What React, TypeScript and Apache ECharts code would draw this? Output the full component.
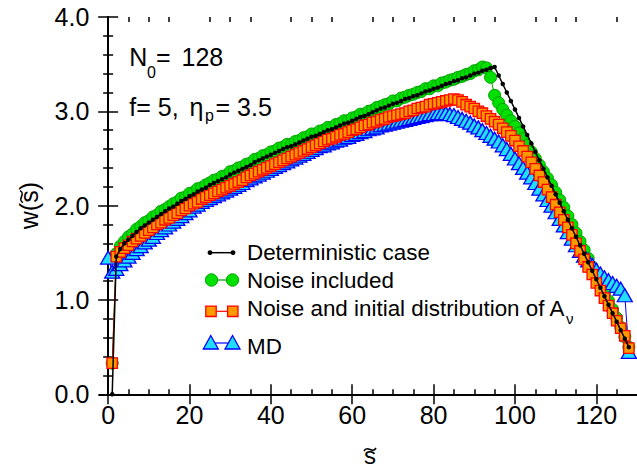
import React, { useEffect, useRef } from "react";
import * as echarts from "echarts";

// ---- data ----
const xMajor = [0, 20, 40, 60, 80, 100, 120];
const xMinor = [5, 10, 15, 25, 30, 35, 45, 50, 55, 65, 70, 75, 85, 90, 95, 105, 110, 115, 125];

// Deterministic case, s = 1 .. 128
const detStart = 1;
const detW = [
  0, 1.46, 1.54, 1.6, 1.64, 1.68, 1.72, 1.76, 1.79, 1.82, 1.85, 1.88, 1.91, 1.94, 1.97, 1.99, 2.02, 2.05, 2.07, 2.1,
  2.12, 2.15, 2.17, 2.19, 2.22, 2.24, 2.26, 2.28, 2.3, 2.33, 2.35, 2.37, 2.39, 2.41, 2.43, 2.46, 2.48, 2.5, 2.52, 2.54,
  2.56, 2.58, 2.6, 2.62, 2.63, 2.65, 2.67, 2.69, 2.71, 2.73, 2.74, 2.76, 2.78, 2.8, 2.81, 2.83, 2.85, 2.87, 2.88, 2.9,
  2.92, 2.94, 2.95, 2.97, 2.99, 3.01, 3.03, 3.04, 3.06, 3.08, 3.09, 3.11, 3.13, 3.14, 3.16, 3.17, 3.19, 3.21, 3.22, 3.24,
  3.25, 3.27, 3.29, 3.3, 3.32, 3.33, 3.35, 3.36, 3.38, 3.4, 3.41, 3.43, 3.44, 3.46, 3.47, 3.38, 3.29, 3.2, 3.11, 3.02,
  2.93, 2.84, 2.75, 2.66, 2.57, 2.48, 2.39, 2.3, 2.21, 2.12, 2.03, 1.94, 1.85, 1.76, 1.67, 1.58, 1.49, 1.4, 1.31, 1.22,
  1.13, 1.04, 0.95, 0.86, 0.77, 0.68, 0.59, 0.5,
];

// Noise included, s = 1 .. 128
const noiseStart = 1;
const noiseW = [
  0.33, 1.49, 1.57, 1.62, 1.67, 1.7, 1.75, 1.78, 1.82, 1.84, 1.88, 1.9, 1.94, 1.96, 1.99, 2.02, 2.04, 2.08, 2.09, 2.13,
  2.14, 2.18, 2.19, 2.22, 2.24, 2.27, 2.28, 2.31, 2.32, 2.36, 2.37, 2.4, 2.41, 2.44, 2.45, 2.49, 2.5, 2.53, 2.54, 2.57,
  2.58, 2.61, 2.62, 2.65, 2.65, 2.68, 2.69, 2.72, 2.73, 2.76, 2.76, 2.79, 2.8, 2.83, 2.83, 2.86, 2.87, 2.9, 2.9, 2.93,
  2.94, 2.97, 2.97, 3.0, 3.01, 3.04, 3.05, 3.07, 3.08, 3.11, 3.11, 3.14, 3.15, 3.17, 3.18, 3.2, 3.21, 3.24, 3.24, 3.27,
  3.27, 3.3, 3.31, 3.33, 3.34, 3.36, 3.37, 3.39, 3.4, 3.43, 3.44, 3.47, 3.46, 3.36, 3.17, 3.09, 3.02, 2.96, 2.9, 2.84,
  2.77, 2.71, 2.64, 2.57, 2.5, 2.43, 2.36, 2.29, 2.22, 2.14, 2.06, 1.98, 1.89, 1.8, 1.71, 1.62, 1.53, 1.44, 1.35, 1.26,
  1.17, 1.08, 0.99, 0.9, 0.81, 0.71, 0.61, 0.5,
];

// Noise and initial distribution of A_nu, s = 1 .. 128
const initStart = 1;
const initW = [
  0.33, 1.46, 1.51, 1.55, 1.58, 1.62, 1.65, 1.68, 1.71, 1.74, 1.77, 1.8, 1.82, 1.85, 1.87, 1.9, 1.92, 1.95, 1.97, 2.0,
  2.02, 2.04, 2.07, 2.09, 2.11, 2.13, 2.15, 2.17, 2.19, 2.21, 2.23, 2.25, 2.27, 2.3, 2.32, 2.34, 2.36, 2.38, 2.4, 2.42,
  2.44, 2.46, 2.48, 2.5, 2.52, 2.54, 2.56, 2.58, 2.6, 2.62, 2.64, 2.66, 2.68, 2.7, 2.71, 2.73, 2.75, 2.76, 2.78, 2.8,
  2.81, 2.83, 2.85, 2.86, 2.88, 2.89, 2.91, 2.92, 2.94, 2.95, 2.96, 2.97, 2.98, 3.0, 3.01, 3.03, 3.04, 3.05, 3.07, 3.08,
  3.09, 3.1, 3.11, 3.12, 3.13, 3.12, 3.1, 3.07, 3.05, 3.03, 3.0, 2.98, 2.95, 2.92, 2.89, 2.86, 2.82, 2.78, 2.74, 2.69,
  2.63, 2.58, 2.52, 2.46, 2.39, 2.32, 2.25, 2.17, 2.09, 2.01, 1.93, 1.85, 1.77, 1.69, 1.6, 1.52, 1.43, 1.35, 1.27, 1.18,
  1.1, 1.02, 0.94, 0.86, 0.78, 0.7, 0.62, 0.49,
];

// MD, s = 0 .. 128
const mdStart = 0;
const mdW = [
  1.45, 1.3, 1.33, 1.38, 1.42, 1.46, 1.5, 1.54, 1.57, 1.61, 1.64, 1.67, 1.71, 1.74, 1.77, 1.8, 1.83, 1.86, 1.89, 1.92,
  1.95, 1.99, 2.01, 2.04, 2.06, 2.08, 2.1, 2.12, 2.14, 2.16, 2.18, 2.2, 2.22, 2.24, 2.27, 2.29, 2.31, 2.33, 2.35, 2.37,
  2.39, 2.41, 2.43, 2.45, 2.47, 2.49, 2.51, 2.53, 2.55, 2.57, 2.59, 2.61, 2.63, 2.64, 2.66, 2.67, 2.69, 2.7, 2.72, 2.73,
  2.75, 2.76, 2.78, 2.79, 2.81, 2.82, 2.83, 2.85, 2.86, 2.87, 2.88, 2.89, 2.9, 2.91, 2.92, 2.93, 2.94, 2.95, 2.96, 2.97,
  2.97, 2.98, 2.98, 2.98, 2.97, 2.96, 2.94, 2.92, 2.9, 2.88, 2.85, 2.83, 2.8, 2.77, 2.74, 2.71, 2.68, 2.64, 2.6, 2.55,
  2.5, 2.45, 2.4, 2.35, 2.3, 2.24, 2.18, 2.12, 2.06, 2.0, 1.93, 1.86, 1.79, 1.72, 1.65, 1.58, 1.52, 1.47, 1.42, 1.37,
  1.32, 1.28, 1.24, 1.21, 1.18, 1.15, 1.12, 1.05, 0.45,
];

const FONT = '"Liberation Sans", Arial, Helvetica, sans-serif';
const GRID = { left: 100, top: 17, width: 539, height: 377.3 };
const LEG_FS = 22.4;

const toPts = (start: number, arr: number[]) => arr.map((w, i) => [start + i, w]);

function txt(text: string, x: number, baseline: number, size: number, align = "left", extra: any = {}) {
  return {
    type: "text",
    x,
    y: baseline - 0.3465 * size,
    z: 100,
    silent: true,
    style: { text, fill: "#000", fontSize: size, fontFamily: FONT, align, verticalAlign: "middle", ...extra },
  };
}

function tilde(cx: number, cy: number) {
  return {
    type: "bezierCurve",
    z: 100,
    silent: true,
    shape: { x1: cx - 6, y1: cy + 1.5, cpx1: cx - 2.5, cpy1: cy - 5, cpx2: cx + 2.5, cpy2: cy + 5, x2: cx + 6, y2: cy - 1.5 },
    style: { stroke: "#000", lineWidth: 1.6, fill: null },
  };
}

const GREEN = { fill: "#00e000", stroke: "#00a000" };
const ORANGE = { fill: "#ff9900", stroke: "#ff0000" };
const CYAN = { fill: "#22ddff", stroke: "#0000ff" };

function buildGraphic() {
  const g: any[] = [];
  // annotations
  g.push(txt("N", 129.3, 66, 25));
  g.push(txt("0", 147, 78.3, 16));
  g.push(txt("=", 156, 66, 25));
  g.push(txt("128", 181.5, 66, 25));
  g.push(txt("f= 5,", 129.3, 116, 25));
  g.push(txt("\u03b7", 189.5, 116, 25));
  g.push(txt("p", 205, 121.3, 16));
  g.push(txt("= 3.5", 215.5, 116, 25));

  // legend
  const L1 = 210, L2 = 233;
  g.push({ type: "line", z: 100, silent: true, shape: { x1: L1, y1: 252.7, x2: L2, y2: 252.7 }, style: { stroke: "#000", lineWidth: 1.5 } });
  g.push({ type: "circle", z: 101, silent: true, shape: { cx: L1, cy: 252.7, r: 2.4 }, style: { fill: "#000" } });
  g.push({ type: "circle", z: 101, silent: true, shape: { cx: L2, cy: 252.7, r: 2.4 }, style: { fill: "#000" } });
  g.push(txt("Deterministic case", 247, 260, LEG_FS));

  g.push({ type: "line", z: 100, silent: true, shape: { x1: 211.5, y1: 280, x2: 232.5, y2: 280 }, style: { stroke: "#00a000", lineWidth: 1.2 } });
  g.push({ type: "circle", z: 101, silent: true, shape: { cx: 211.5, cy: 280, r: 6.2 }, style: { fill: GREEN.fill, stroke: GREEN.stroke, lineWidth: 1 } });
  g.push({ type: "circle", z: 101, silent: true, shape: { cx: 232.5, cy: 280, r: 6.2 }, style: { fill: GREEN.fill, stroke: GREEN.stroke, lineWidth: 1 } });
  g.push(txt("Noise included", 247, 288, LEG_FS));

  g.push({ type: "line", z: 100, silent: true, shape: { x1: 211, y1: 311.3, x2: 232.8, y2: 311.3 }, style: { stroke: "#ff0000", lineWidth: 1.2 } });
  g.push({ type: "rect", z: 101, silent: true, shape: { x: 211 - 5.2, y: 311.3 - 5.2, width: 10.4, height: 10.4 }, style: { fill: ORANGE.fill, stroke: ORANGE.stroke, lineWidth: 1.3 } });
  g.push({ type: "rect", z: 101, silent: true, shape: { x: 232.8 - 5.2, y: 311.3 - 5.2, width: 10.4, height: 10.4 }, style: { fill: ORANGE.fill, stroke: ORANGE.stroke, lineWidth: 1.3 } });
  g.push(txt("Noise and initial distribution of A", 247, 316.3, LEG_FS));
  g.push(txt("\u03bd", 566, 324, 15));

  g.push({ type: "line", z: 100, silent: true, shape: { x1: 210.8, y1: 343, x2: 232.5, y2: 343 }, style: { stroke: "#0000ff", lineWidth: 1.2 } });
  for (const cx of [210.8, 232.5]) {
    g.push({
      type: "polygon", z: 101, silent: true,
      shape: { points: [[cx, 335.5], [cx - 7.5, 349], [cx + 7.5, 349]] },
      style: { fill: CYAN.fill, stroke: CYAN.stroke, lineWidth: 1.3 },
    });
  }
  g.push(txt("MD", 247, 353.8, LEG_FS));

  // x axis name: s with tilde
  g.push(txt("s", 370, 464, 24, "center", { lineHeight: 18 }));
  g.push(tilde(370, 449.5));

  // y axis name: w(s~) rotated
  g.push({
    type: "group",
    x: 38,
    y: 205.6,
    rotation: Math.PI / 2,
    silent: true,
    children: [
      {
        type: "text",
        x: 0,
        y: -0.3465 * 25,
        style: { text: "w(s)", fill: "#000", fontSize: 25, fontFamily: FONT, align: "center", verticalAlign: "middle" },
      },
      tilde(9, -16.5),
    ],
  });
  return g;
}

export default function App() {
  const ref = useRef<HTMLDivElement>(null);
  useEffect(() => {
    if (!ref.current) return;
    const chart = echarts.init(ref.current, undefined, { renderer: "svg" });
    const axisLine = { show: true, lineStyle: { color: "#000", width: 2 } };
    const xBase = { type: "value", min: -2, max: 130, splitLine: { show: false } };
    const yBase = { type: "value", min: 0, max: 4, interval: 1, splitLine: { show: false } };
    const option: any = {
      animation: false,
      backgroundColor: "#fff",
      grid: [{ ...GRID }, { ...GRID }],
      xAxis: [
        {
          ...xBase, gridIndex: 0, position: "bottom", axisLine,
          axisTick: { show: true, inside: true, length: 10, customValues: xMajor, lineStyle: { color: "#000", width: 1.5 } },
          axisLabel: { show: true, customValues: xMajor, margin: 8.5, color: "#000", fontSize: 25, fontFamily: FONT, formatter: (v: number) => String(v) },
        },
        {
          ...xBase, gridIndex: 0, position: "top", axisLine,
          axisTick: { show: true, inside: true, length: 10, customValues: xMajor, lineStyle: { color: "#000", width: 1.5 } },
          axisLabel: { show: false },
        },
        {
          ...xBase, gridIndex: 1, position: "bottom", axisLine: { show: false },
          axisTick: { show: true, inside: true, length: 5, customValues: xMinor, lineStyle: { color: "#000", width: 1.5 } },
          axisLabel: { show: false },
        },
        {
          ...xBase, gridIndex: 1, position: "top", axisLine: { show: false },
          axisTick: { show: true, inside: true, length: 5, customValues: xMinor, lineStyle: { color: "#000", width: 1.5 } },
          axisLabel: { show: false },
        },
      ],
      yAxis: [
        {
          ...yBase, gridIndex: 0, position: "left", axisLine,
          axisTick: { show: true, inside: true, length: 10, lineStyle: { color: "#000", width: 1.5 } },
          minorTick: { show: true, splitNumber: 5, length: 5, lineStyle: { color: "#000", width: 1.5 } },
          axisLabel: { show: true, margin: 10.7, color: "#000", fontSize: 25, fontFamily: FONT, formatter: (v: number) => v.toFixed(1) },
        },
        {
          ...yBase, gridIndex: 0, position: "right", axisLine,
          axisTick: { show: true, inside: true, length: 10, lineStyle: { color: "#000", width: 1.5 } },
          minorTick: { show: true, splitNumber: 5, length: 5, lineStyle: { color: "#000", width: 1.5 } },
          axisLabel: { show: false },
        },
        { ...yBase, gridIndex: 1, show: false },
      ],
      series: [
        {
          type: "line", name: "Noise included", xAxisIndex: 0, yAxisIndex: 0, z: 2, silent: true,
          data: toPts(noiseStart, noiseW),
          symbol: "circle", symbolSize: 12,
          itemStyle: { color: GREEN.fill, borderColor: GREEN.stroke, borderWidth: 1 },
          lineStyle: { color: "#00a000", width: 1 },
          emphasis: { disabled: true },
        },
        {
          type: "line", name: "MD", xAxisIndex: 0, yAxisIndex: 0, z: 3, silent: true,
          data: toPts(mdStart, mdW),
          symbol: "triangle", symbolSize: [15, 13],
          itemStyle: { color: CYAN.fill, borderColor: CYAN.stroke, borderWidth: 1.3 },
          lineStyle: { color: "#0000ff", width: 1 },
          emphasis: { disabled: true },
        },
        {
          type: "line", name: "Noise and initial distribution", xAxisIndex: 0, yAxisIndex: 0, z: 4, silent: true,
          data: toPts(initStart, initW),
          symbol: "rect", symbolSize: 10.4,
          itemStyle: { color: ORANGE.fill, borderColor: ORANGE.stroke, borderWidth: 1.3 },
          lineStyle: { color: "#ff0000", width: 1 },
          emphasis: { disabled: true },
        },
        {
          type: "line", name: "Deterministic case", xAxisIndex: 0, yAxisIndex: 0, z: 5, silent: true,
          data: toPts(detStart, detW),
          symbol: "circle", symbolSize: 4.5,
          itemStyle: { color: "#000" },
          lineStyle: { color: "#000", width: 1.5 },
          emphasis: { disabled: true },
        },
      ],
      graphic: buildGraphic(),
    };
    chart.setOption(option);
    return () => chart.dispose();
  }, []);
  return <div ref={ref} style={{ position: "absolute", left: 0, top: 0, width: 637, height: 468 }} />;
}
